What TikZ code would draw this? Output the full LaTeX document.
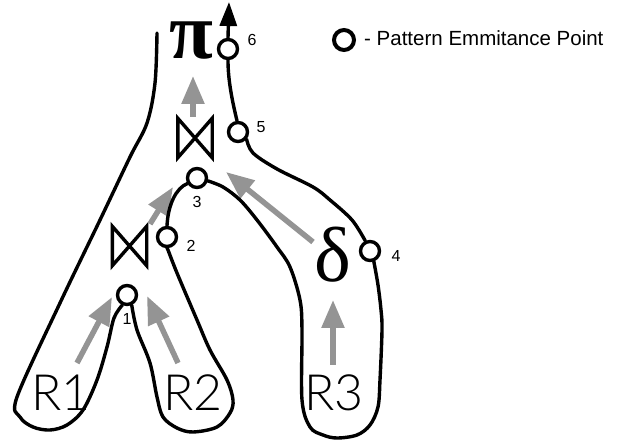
\documentclass[tikz,border=0pt]{standalone}
\usepackage{fontspec}
\usetikzlibrary{arrows.meta}
\setmainfont{Liberation Sans}
\newfontfamily\relfont{Lato Light}
\newfontfamily\opfont{Liberation Serif}
\definecolor{flowgray}{gray}{0.58}

\begin{document}
\begin{tikzpicture}[x=1pt,y=-1pt,
  edge/.style={line width=3.4pt,line cap=round,line join=round},
  emit/.style={circle,draw,line width=3.4pt,fill=white,minimum size=19pt,inner sep=0pt},
  flow/.style={line width=5.5pt,draw=flowgray,-{Triangle[length=28pt,width=22pt]}},
  num/.style={font=\fontsize{16}{16}\selectfont,inner sep=0pt},
  rel/.style={font=\relfont\fontsize{50}{50}\selectfont,inner sep=0pt,anchor=west},
  joinbox/.style={minimum width=34pt,minimum height=39pt,inner sep=0pt}]
\useasboundingbox (0,0) rectangle (621,443);

\node[emit] (p1) at (127,295) {};
\node[emit] (p2) at (167,237) {};
\node[emit] (p3) at (197,178) {};
\node[emit] (p4) at (370,251) {};
\node[emit] (p5) at (238,132) {};
\node[emit] (p6) at (228,49) {};
\node[num] (l1) at (127,319) {1};
\node[num] (l2) at (191,246) {2};
\node[num] (l3) at (197,202) {3};
\node[num] (l4) at (396,256) {4};
\node[num] (l5) at (261,127) {5};
\node[num] (l6) at (252,40) {6};

\node[rel] (r1) at (31,393) {R1};
\node[rel] (r2) at (163,393) {R2};
\node[rel] (r3) at (304,393) {R3};
\node[inner sep=0pt,font=\opfont\bfseries\fontsize{80}{80}\selectfont] (pi) at (191,41) {π};
\node[inner sep=0pt,font=\opfont\fontsize{78}{78}\selectfont] (delta) at (333,255) {δ};
\node[joinbox] (j1) at (129.5,246) {};
\node[joinbox] (j2) at (195,138) {};
\draw[edge,line join=miter] (j1.north west) -- (j1.south east) -- (j1.north east) -- (j1.south west) -- cycle;
\draw[edge,line join=miter] (j2.north west) -- (j2.south east) -- (j2.north east) -- (j2.south west) -- cycle;

\node[emit,line width=4pt,minimum size=20pt] (key) at (344,40) {};
\node[anchor=west,inner sep=0pt,font=\fontsize{20.5}{20.5}\selectfont] (keytext) at (364,38) {- Pattern Emmitance Point};

\coordinate (top) at (157,33);
\coordinate (result) at (229,2);
\coordinate (a1) at (77,363);
\coordinate (b1) at (112,297);
\coordinate (a2) at (178,363);
\coordinate (b2) at (147,296);
\coordinate (a3) at (150,224);
\coordinate (b3) at (173,187);
\coordinate (a4) at (313,242);
\coordinate (b4) at (226,172);
\coordinate (a5) at (193,117);
\coordinate (b5) at (193,76);
\coordinate (a6) at (333,365);
\coordinate (b6) at (333,300);

\draw[flow] (a1) -- (b1);
\draw[flow] (a2) -- (b2);
\draw[flow] (a3) -- (b3);
\draw[flow] (a4) -- (b4);
\draw[flow] (a5) -- (b5);
\draw[flow] (a6) -- (b6);

\draw[edge] plot[smooth,tension=0.55] coordinates {(top) (155,83) (147,123) (130,157) (100,220) (60,303) (17,397) (20,417) (33,427) (50,430) (67,425) (83,410) (97,380) (107,347) (114,318) (p1.-115)};
\draw[edge] plot[smooth,tension=0.55] coordinates {(p1.-65) (137,330) (150,363) (157,397) (163,417) (177,428) (193,432) (217,427) (230,413) (233,400) (227,380) (210,350) (197,320) (177,273) (168,250) (p2.-90)};
\draw[edge] (p2.90) .. controls (168,205) and (176,188) .. (p3.210);
\draw[edge] plot[smooth,tension=0.55] coordinates {(p3.-15) (223,187) (240,200) (257,220) (277,247) (290,267) (300,300) (302,330) (302,400) (310,427) (323,435) (337,438) (357,435) (370,425) (378,407) (380,380) (382,330) (381,310) (378,285) (p4.-70)};
\draw[edge] plot[smooth,tension=0.55] coordinates {(p4.115) (352,220) (330,200) (313,187) (277,169) (253,153) (p5.-40)};
\draw[edge] (p5.95) .. controls (232,100) and (228,80) .. (p6.-90);
\draw[edge,-{Triangle[length=24pt,width=17pt]}] (p6.north) -- (result);
\end{tikzpicture}
\end{document}
